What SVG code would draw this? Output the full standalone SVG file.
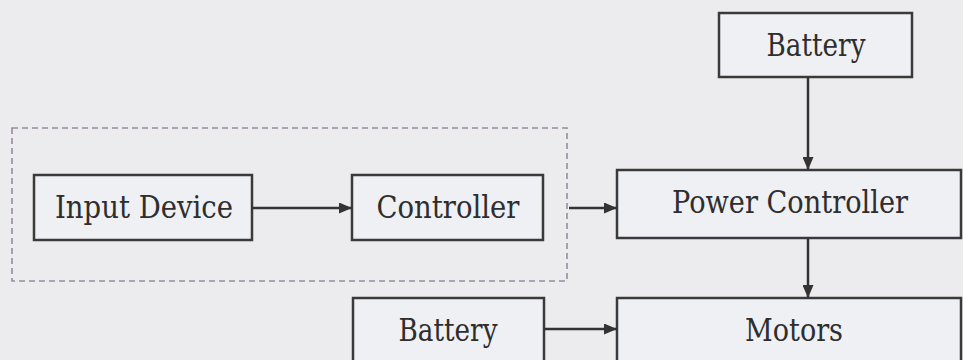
<svg xmlns="http://www.w3.org/2000/svg" width="963" height="360" viewBox="0 0 963 360">
<style>
.box{fill:#eff0f4;stroke:#3a3a3a;stroke-width:2.5}
.lbl{font-family:"DejaVu Serif",serif;font-size:32px;fill:#2e2e2e;text-anchor:middle}
.con{stroke:#333;stroke-width:2.5;fill:none}
.grp{fill:none;stroke:#968c9e;stroke-width:1.6;stroke-dasharray:6 4}
</style>
<defs>
<marker id="ah" viewBox="0 0 13 11" refX="13" refY="5.5" markerWidth="13" markerHeight="11" markerUnits="userSpaceOnUse" orient="auto">
<path d="M0,0 L13,5.5 L0,11 Z" fill="#333"/>
</marker>
</defs>
<rect width="963" height="360" fill="#ececee"/>
<rect id="group" class="grp" x="12" y="128" width="555" height="153"/>
<g id="input-device"><rect class="box" x="34" y="175" width="218" height="65"/><text class="lbl" x="144" y="218" textLength="178" lengthAdjust="spacingAndGlyphs">Input Device</text></g>
<g id="controller"><rect class="box" x="352" y="175" width="191" height="65"/><text class="lbl" x="448" y="218" textLength="143" lengthAdjust="spacingAndGlyphs">Controller</text></g>
<g id="battery-top"><rect class="box" x="719" y="13" width="193" height="64"/><text class="lbl" x="816" y="56" textLength="99" lengthAdjust="spacingAndGlyphs">Battery</text></g>
<g id="power-controller"><rect class="box" x="617" y="170" width="344" height="68"/><text class="lbl" x="790" y="213" textLength="236" lengthAdjust="spacingAndGlyphs">Power Controller</text></g>
<g id="battery-bottom"><rect class="box" x="353" y="298" width="191" height="80"/><text class="lbl" x="448" y="341" textLength="99" lengthAdjust="spacingAndGlyphs">Battery</text></g>
<g id="motors"><rect class="box" x="617" y="298" width="344" height="80"/><text class="lbl" x="794" y="341" textLength="98" lengthAdjust="spacingAndGlyphs">Motors</text></g>
<g id="connectors">
<line class="con" x1="252" y1="208" x2="352" y2="208" marker-end="url(#ah)"/>
<line class="con" x1="569" y1="208" x2="617" y2="208" marker-end="url(#ah)"/>
<line class="con" x1="808" y1="77" x2="808" y2="170" marker-end="url(#ah)"/>
<line class="con" x1="808" y1="238" x2="808" y2="298" marker-end="url(#ah)"/>
<line class="con" x1="544" y1="329" x2="617" y2="329" marker-end="url(#ah)"/>
</g>
</svg>
